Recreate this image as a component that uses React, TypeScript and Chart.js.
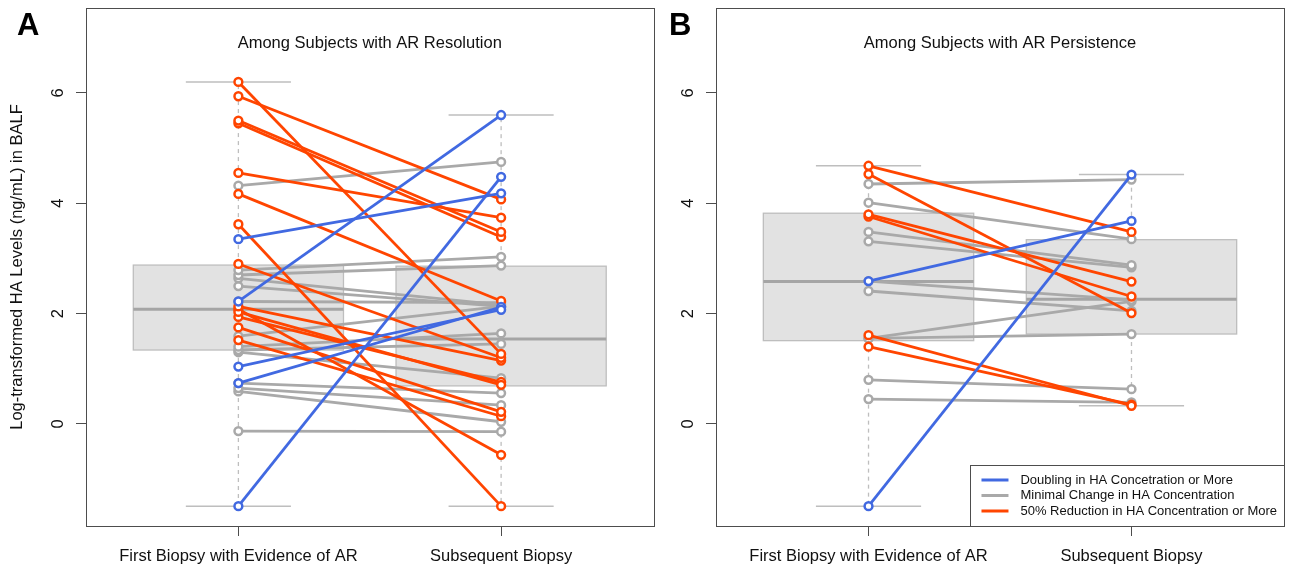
import React, { useEffect, useRef } from "react";
import { Chart, registerables } from "chart.js";

Chart.register(...registerables);

const FONT = "'Liberation Sans', Arial, Helvetica, sans-serif";

// ---------- shared ----------
const categories = ["First Biopsy with Evidence of AR", "Subsequent Biopsy"];
const yTickValues = [0, 2, 4, 6];
const yAxisTitle = "Log-transformed HA Levels (ng/mL) in BALF";
const changeLabels = [
  "Doubling in HA Concetration or More",
  "Minimal Change in HA Concentration",
  "50% Reduction in HA Concentration or More",
];
const changeColors = ["#4169E1", "#A9A9A9", "#FF4500"];

// ---------- Panel A: subjects with AR resolution ----------
// change: 0 = doubling, 1 = minimal change, 2 = 50% reduction
const resolutionFirst = [
  -1.49, 2.22, 3.35, 1.04, 0.74,
  6.2, 5.94, 5.5, 5.45, 4.55, 4.17, 3.62, 2.9, 2.13, 2.03, 1.94, 1.75, 1.52, 2.08,
  4.32, 2.79, 2.7, 2.64, 2.5, 2.22, 1.59, 1.4, 1.34, 1.3, 0.74, 0.65, 0.59, -0.13,
];
const resolutionSubsequent = [
  4.48, 5.6, 4.18, 2.07, 2.12,
  1.27, 4.07, 3.48, 3.39, 3.74, 2.23, -1.49, 1.2, 1.15, 0.71, 0.76, 0.22, 0.14, -0.56,
  4.75, 3.03, 2.87, 2.16, 2.13, 2.2, 2.13, 1.64, 1.45, 0.83, 0.56, 0.34, 0.04, -0.14,
];
const resolutionChange = [
  0, 0, 0, 0, 0,
  2, 2, 2, 2, 2, 2, 2, 2, 2, 2, 2, 2, 2, 2,
  1, 1, 1, 1, 1, 1, 1, 1, 1, 1, 1, 1, 1, 1,
];
// box stats: [lower whisker, Q1, median, Q3, upper whisker]
const resolutionBoxFirst = [-1.49, 1.34, 2.08, 2.88, 6.2];
const resolutionBoxSubsequent = [-1.49, 0.69, 1.54, 2.86, 5.6];

// ---------- Panel B: subjects with AR persistence ----------
const persistenceFirst = [
  2.59, -1.49,
  4.68, 4.53, 3.8, 3.76, 1.61, 1.4,
  4.35, 4.01, 3.48, 3.31, 2.59, 2.41, 1.55, 1.55, 0.8, 0.45,
];
const persistenceSubsequent = [
  3.68, 4.52,
  3.48, 2.01, 2.58, 2.31, 0.33, 0.35,
  4.43, 3.35, 2.88, 2.84, 2.25, 2.05, 2.22, 1.63, 0.63, 0.39,
];
const persistenceChange = [
  0, 0,
  2, 2, 2, 2, 2, 2,
  1, 1, 1, 1, 1, 1, 1, 1, 1, 1,
];
const persistenceBoxFirst = [-1.49, 1.51, 2.58, 3.82, 4.68];
const persistenceBoxSubsequent = [0.33, 1.63, 2.26, 3.34, 4.52];

const BOX_WIDTH = 0.8;
const HEIGHT = 571;

type PanelProps = {
  letter: string;
  title: string;
  first: number[];
  subsequent: number[];
  change: number[];
  boxFirst: number[];
  boxSubsequent: number[];
  left: number;
  canvasWidth: number;
  axisWidth: number;
  padRight: number;
  letterX: number;
  showYTitle: boolean;
  showLegend: boolean;
};

function Panel(p: PanelProps) {
  const ref = useRef<HTMLCanvasElement>(null);

  useEffect(() => {
    if (!ref.current) return;
    const datasets = p.first.map((v, i) => {
      const c = changeColors[p.change[i]];
      return {
        data: [
          { x: 1, y: v },
          { x: 2, y: p.subsequent[i] },
        ],
        borderColor: c,
        borderWidth: 2.8,
        pointRadius: 3.9,
        pointBorderWidth: 2.5,
        pointBackgroundColor: "#ffffff",
        pointBorderColor: c,
        fill: false,
        tension: 0,
        order: p.change[i] === 0 ? 0 : p.change[i] === 2 ? 1 : 2,
      };
    });

    const line = (ctx: CanvasRenderingContext2D, x1: number, y1: number, x2: number, y2: number) => {
      ctx.beginPath();
      ctx.moveTo(x1, y1);
      ctx.lineTo(x2, y2);
      ctx.stroke();
    };

    const decor = {
      id: "panelDecor",
      beforeDatasetsDraw(chart: any) {
        const { ctx, scales } = chart;
        const x = scales.x;
        const y = scales.y;
        [p.boxFirst, p.boxSubsequent].forEach((stats, i) => {
          const cx = x.getPixelForValue(i + 1);
          const hw = x.getPixelForValue(i + 1 + BOX_WIDTH / 2) - cx;
          const [mn, q1, md, q3, mx] = stats.map((v) => y.getPixelForValue(v));
          ctx.save();
          ctx.strokeStyle = "#BEBEBE";
          ctx.lineWidth = 1.3;
          ctx.setLineDash([4, 4]);
          line(ctx, cx, q3, cx, mx);
          line(ctx, cx, q1, cx, mn);
          ctx.setLineDash([]);
          ctx.lineWidth = 1.5;
          line(ctx, cx - hw / 2, mx, cx + hw / 2, mx);
          line(ctx, cx - hw / 2, mn, cx + hw / 2, mn);
          ctx.fillStyle = "#E2E2E2";
          ctx.fillRect(cx - hw, q3, 2 * hw, q1 - q3);
          ctx.lineWidth = 1.3;
          ctx.strokeRect(cx - hw, q3, 2 * hw, q1 - q3);
          ctx.strokeStyle = "#A5A5A5";
          ctx.lineWidth = 3;
          line(ctx, cx - hw, md, cx + hw, md);
          ctx.restore();
        });
      },
      afterDraw(chart: any) {
        const { ctx, chartArea, scales } = chart;
        const y = scales.y;
        ctx.save();
        // frame
        ctx.strokeStyle = "#4d4d4d";
        ctx.lineWidth = 1;
        ctx.strokeRect(
          Math.round(chartArea.left) + 0.5,
          Math.round(chartArea.top) + 0.5,
          Math.round(chartArea.right - chartArea.left),
          Math.round(chartArea.bottom - chartArea.top)
        );
        // title
        ctx.fillStyle = "#111";
        ctx.font = `16.5px ${FONT}`;
        ctx.textAlign = "center";
        ctx.textBaseline = "middle";
        ctx.fillText(p.title, (chartArea.left + chartArea.right) / 2, 43);
        // rotated y tick labels
        yTickValues.forEach((v) => {
          ctx.save();
          ctx.translate(chartArea.left - 23, y.getPixelForValue(v));
          ctx.rotate(-Math.PI / 2);
          ctx.textAlign = "center";
          ctx.textBaseline = "alphabetic";
          ctx.fillText(String(v), 0, 0);
          ctx.restore();
        });
        // panel letter
        ctx.font = `bold 31px ${FONT}`;
        ctx.textAlign = "left";
        ctx.textBaseline = "alphabetic";
        ctx.fillStyle = "#000";
        ctx.fillText(p.letter, p.letterX, 35);
        // legend
        if (p.showLegend) {
          ctx.font = `13px ${FONT}`;
          const maxW = Math.max(...changeLabels.map((t) => ctx.measureText(t).width));
          const right = Math.round(chartArea.right);
          const bottom = Math.round(chartArea.bottom);
          const top = 465;
          const textX = right - 7 - maxW;
          const leftX = Math.round(textX - 50);
          ctx.fillStyle = "#fff";
          ctx.fillRect(leftX, top, right - leftX, bottom - top);
          ctx.strokeStyle = "#4d4d4d";
          ctx.lineWidth = 1;
          ctx.strokeRect(leftX + 0.5, top + 0.5, right - leftX, bottom - top);
          const rows = [480, 495.5, 511];
          changeLabels.forEach((t, i) => {
            ctx.strokeStyle = changeColors[i];
            ctx.lineWidth = 3;
            line(ctx, textX - 39, rows[i], textX - 12, rows[i]);
            ctx.fillStyle = "#111";
            ctx.textAlign = "left";
            ctx.textBaseline = "middle";
            ctx.fillText(t, textX, rows[i]);
          });
        }
        ctx.restore();
      },
    };

    const axisGrid = {
      drawOnChartArea: false,
      drawTicks: true,
      tickLength: 10,
      color: "#4d4d4d",
      lineWidth: 1,
    };

    const chart = new Chart(ref.current, {
      type: "line",
      data: { datasets: datasets as any },
      options: {
        responsive: false,
        animation: false,
        devicePixelRatio: 1,
        events: [],
        layout: { padding: { top: 8, right: p.padRight, bottom: 0, left: 0 } },
        plugins: {
          legend: { display: false },
          tooltip: { enabled: false },
          title: { display: false },
        },
        scales: {
          x: {
            type: "linear",
            min: 0.42,
            max: 2.58,
            afterBuildTicks: (axis: any) => {
              axis.ticks = categories.map((_, i) => ({ value: i + 1 }));
            },
            afterFit: (s: any) => {
              s.height = HEIGHT - 526;
            },
            ticks: {
              callback: (v: any) => categories[Math.round(Number(v)) - 1] ?? "",
              autoSkip: false,
              maxRotation: 0,
              minRotation: 0,
              padding: 11,
              color: "#111",
              font: { family: FONT, size: 16.5 },
            },
            grid: axisGrid,
            border: { display: true, color: "#4d4d4d", width: 1 },
          },
          y: {
            type: "linear",
            min: -1.85,
            max: 7.54,
            afterBuildTicks: (axis: any) => {
              axis.ticks = yTickValues.map((v) => ({ value: v }));
            },
            afterFit: (s: any) => {
              s.width = p.axisWidth;
            },
            ticks: { display: false },
            grid: axisGrid,
            border: { display: true, color: "#4d4d4d", width: 1 },
            title: {
              display: p.showYTitle,
              text: yAxisTitle,
              color: "#111",
              font: { family: FONT, size: 16.5 },
              padding: { top: 8, bottom: 0 },
            },
          },
        },
      } as any,
      plugins: [decor],
    });
    return () => chart.destroy();
  }, []);

  return (
    <canvas
      ref={ref}
      width={p.canvasWidth}
      height={HEIGHT}
      style={{ position: "absolute", left: p.left, top: 0, width: p.canvasWidth, height: HEIGHT }}
    />
  );
}

export default function App() {
  return (
    <div style={{ position: "fixed", left: 0, top: 0, width: 1294, height: HEIGHT, background: "#fff" }}>
      <Panel
        letter="A"
        title="Among Subjects with AR Resolution"
        first={resolutionFirst}
        subsequent={resolutionSubsequent}
        change={resolutionChange}
        boxFirst={resolutionBoxFirst}
        boxSubsequent={resolutionBoxSubsequent}
        left={0}
        canvasWidth={660}
        axisWidth={86}
        padRight={6}
        letterX={17}
        showYTitle={true}
        showLegend={false}
      />
      <Panel
        letter="B"
        title="Among Subjects with AR Persistence"
        first={persistenceFirst}
        subsequent={persistenceSubsequent}
        change={persistenceChange}
        boxFirst={persistenceBoxFirst}
        boxSubsequent={persistenceBoxSubsequent}
        left={660}
        canvasWidth={634}
        axisWidth={56}
        padRight={10}
        letterX={9}
        showYTitle={false}
        showLegend={true}
      />
    </div>
  );
}
